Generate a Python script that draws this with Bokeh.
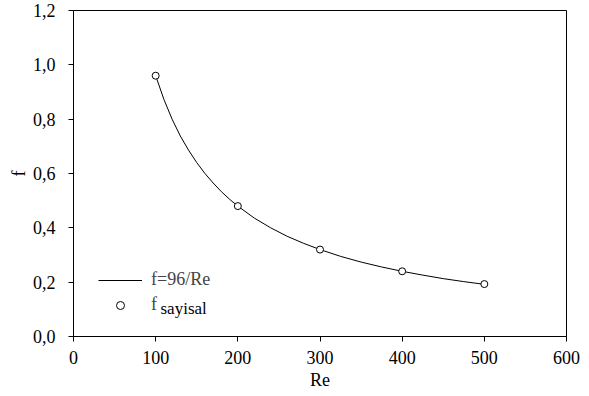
from bokeh.plotting import figure
from bokeh.models import Legend, LegendItem, Label, FixedTicker, CustomJSTickFormatter
from bokeh.embed import file_html
from bokeh.resources import INLINE

# curve f = 96/Re
re_curve = [100, 110, 120, 130, 140, 150, 160, 170, 180, 190, 200, 220, 240, 260, 280,
            300, 325, 350, 375, 400, 425, 450, 475, 500]
f_curve = [0.960, 0.873, 0.800, 0.738, 0.686, 0.640, 0.600, 0.565, 0.533, 0.505, 0.480,
           0.436, 0.400, 0.369, 0.343, 0.320, 0.295, 0.274, 0.256, 0.240, 0.226, 0.213,
           0.202, 0.192]

# numerical points
re_pts = [100, 200, 300, 400, 500]
f_pts = [0.96, 0.48, 0.32, 0.24, 0.193]

x_ticks = [0, 100, 200, 300, 400, 500, 600]
y_ticks = [0.0, 0.2, 0.4, 0.6, 0.8, 1.0, 1.2]

FONT = "Liberation Serif"

p = figure(width=589, height=396, output_backend="svg", toolbar_location=None,
           x_range=(0, 600), y_range=(0, 1.2),
           min_border_left=73, min_border_right=23, min_border_top=10, min_border_bottom=60)

p.background_fill_color = "white"
p.border_fill_color = "white"
p.outline_line_color = "black"
p.outline_line_width = 1
p.outline_line_alpha = 1
p.grid.visible = False

for ax in (p.xaxis, p.yaxis):
    ax.axis_line_color = "black"
    ax.major_tick_line_color = "black"
    ax.major_tick_out = 5
    ax.major_tick_in = 0
    ax.minor_tick_line_color = None
    ax.major_label_text_font = FONT
    ax.major_label_text_font_size = "18px"
    ax.major_label_text_color = "black"
    ax.axis_label_text_font = FONT
    ax.axis_label_text_font_size = "18px"
    ax.axis_label_text_font_style = "normal"
    ax.axis_label_text_color = "black"

p.xaxis.ticker = FixedTicker(ticks=x_ticks)
p.yaxis.ticker = FixedTicker(ticks=y_ticks)
p.yaxis.formatter = CustomJSTickFormatter(code="return tick.toFixed(1).replace('.', ',');")
p.xaxis.axis_label = "Re"
p.yaxis.axis_label = "f"
p.xaxis.major_label_standoff = 9
p.yaxis.major_label_standoff = 13
p.xaxis.axis_label_standoff = 3
p.yaxis.axis_label_standoff = 1

line = p.line(re_curve, f_curve, line_color="black", line_width=1)
pts = p.scatter(re_pts, f_pts, marker="circle", size=7, fill_color="white",
                line_color="black", line_width=1)

legend = Legend(items=[LegendItem(label="f=96/Re", renderers=[line]),
                       LegendItem(label="f", renderers=[pts])],
                location=(25, 21), padding=0, margin=0, spacing=4,
                glyph_width=44, glyph_height=20, label_height=20, label_standoff=9,
                label_text_font=FONT, label_text_font_size="18px",
                border_line_color=None, background_fill_alpha=0)
p.add_layout(legend, "center")

sub = Label(x=87, y=28, x_units="screen", y_units="screen", text="sayisal",
            text_font=FONT, text_font_size="17px", text_color="black",
            text_baseline="alphabetic")
p.add_layout(sub)

open("out.html", "w").write(file_html(p, INLINE))
